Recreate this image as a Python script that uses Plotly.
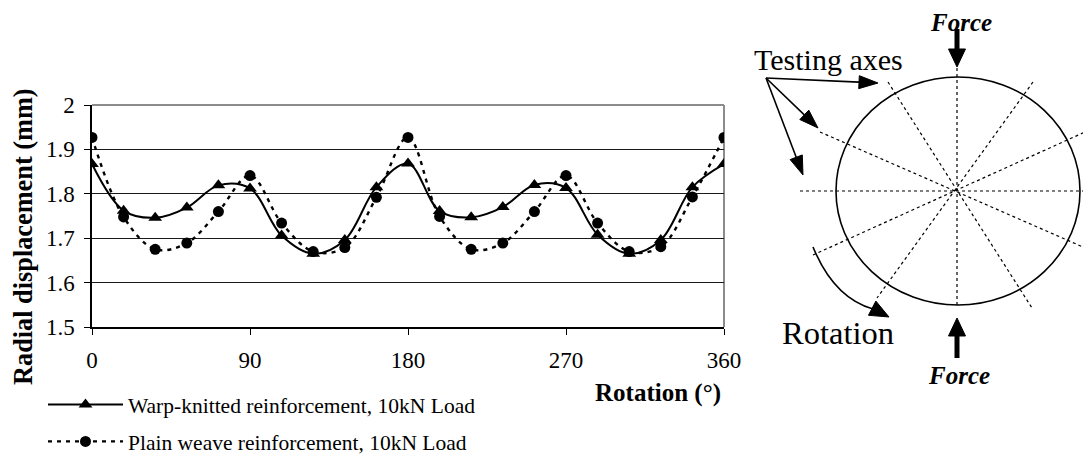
import plotly.graph_objects as go

VIEW_W, VIEW_H = 1091, 457
OFF = 8  # default page (body) margin in the browser
W, H = VIEW_W - OFF, VIEW_H - OFF

# ---------------- data ----------------
rotation_deg = [0, 18, 36, 54, 72, 90, 108, 126, 144, 162, 180,
                198, 216, 234, 252, 270, 288, 306, 324, 342, 360]
warp_knitted = [1.867, 1.762, 1.746, 1.769, 1.819, 1.812, 1.706, 1.665, 1.696, 1.815, 1.868,
                1.761, 1.747, 1.770, 1.820, 1.813, 1.708, 1.665, 1.696, 1.815, 1.867]
plain_weave = [1.927, 1.748, 1.675, 1.689, 1.760, 1.841, 1.734, 1.670, 1.679, 1.792, 1.927,
               1.749, 1.675, 1.689, 1.760, 1.841, 1.734, 1.670, 1.681, 1.793, 1.927]
x_ticks = [0, 90, 180, 270, 360]
y_ticks = [1.5, 1.6, 1.7, 1.8, 1.9, 2.0]
y_tick_text = ["1.5", "1.6", "1.7", "1.8", "1.9", "2"]
series_names = ["Warp-knitted reinforcement, 10kN Load",
                "Plain weave reinforcement, 10kN Load"]

FONT = "Liberation Serif, Times New Roman, serif"


def px(x):
    """page pixel x -> paper fraction"""
    return (x - OFF) / W


def py(y):
    """page pixel y -> paper fraction"""
    return 1 - (y - OFF) / H


fig = go.Figure()
fig.add_trace(go.Scatter(
    x=rotation_deg, y=warp_knitted, name=series_names[0],
    mode="lines+markers", line=dict(color="black", width=2, shape="spline", smoothing=1),
    marker=dict(symbol="triangle-up", size=12, color="black"),
    legendgroup="a"))
fig.add_trace(go.Scatter(
    x=rotation_deg, y=plain_weave, name=series_names[1],
    mode="lines+markers", line=dict(color="black", width=2.4, dash="4px,5px", shape="spline", smoothing=1),
    marker=dict(symbol="circle", size=11, color="black"),
    legendgroup="b"))

shapes = []
annotations = []

# top/right gray border of plot area
shapes.append(dict(type="line", xref="x domain", yref="y domain", x0=0, x1=1, y0=1, y1=1,
                   line=dict(color="#8c8c8c", width=2), layer="below"))
shapes.append(dict(type="line", xref="x domain", yref="y domain", x0=1, x1=1, y0=0, y1=1,
                   line=dict(color="#8c8c8c", width=2), layer="below"))

# ---------------- diagram (right) ----------------
cx, cy, rx, ry = 958, 191, 122, 114
shapes.append(dict(type="circle", xref="paper", yref="paper",
                   x0=px(cx - rx), x1=px(cx + rx), y0=py(cy + ry), y1=py(cy - ry),
                   line=dict(color="black", width=1.6)))

axes_lines = [((800, 191), (1091, 191)),
              ((957, 68), (957, 308)),
              ((888, 82), (1032, 308)),
              ((1033, 82), (877, 298)),
              ((820, 132), (1083, 247)),
              ((813, 255), (1085, 132))]
for (x0, y0), (x1, y1) in axes_lines:
    shapes.append(dict(type="line", xref="paper", yref="paper",
                       x0=px(x0), y0=py(y0), x1=px(x1), y1=py(y1),
                       line=dict(color="black", width=1.2, dash="dot")))


def seg(p0, p1, width):
    shapes.append(dict(type="line", xref="paper", yref="paper",
                       x0=px(p0[0]), y0=py(p0[1]), x1=px(p1[0]), y1=py(p1[1]),
                       line=dict(color="black", width=width)))


def head(tail, tip, length, half):
    dx, dy = tip[0] - tail[0], tip[1] - tail[1]
    n = (dx * dx + dy * dy) ** 0.5
    ux, uy = dx / n, dy / n
    bx, by = tip[0] - ux * length, tip[1] - uy * length
    p1 = (bx - uy * half, by + ux * half)
    p2 = (bx + uy * half, by - ux * half)
    path = "M {:.5f} {:.5f} L {:.5f} {:.5f} L {:.5f} {:.5f} Z".format(
        px(tip[0]), py(tip[1]), px(p1[0]), py(p1[1]), px(p2[0]), py(p2[1]))
    shapes.append(dict(type="path", xref="paper", yref="paper", path=path,
                       fillcolor="black", line=dict(color="black", width=1)))
    return (bx, by)


def arrow(tail, tip, width, length, half):
    base = head(tail, tip, length, half)
    seg(tail, base, width)


# Force arrows
arrow((957, 29), (957, 67), 5, 18, 8.5)
arrow((957, 358), (957, 318), 5, 18, 8.5)

# Testing axes arrows
tail = (766, 78)
for tip in [(878, 83), (818, 128), (803, 175)]:
    arrow(tail, tip, 1.6, 19, 6.5)

# Rotation arc
shapes.append(dict(type="path", xref="paper", yref="paper",
                   path="M {:.5f} {:.5f} Q {:.5f} {:.5f} {:.5f} {:.5f}".format(
                       px(813), py(247), px(834), py(298), px(873), py(309)),
                   line=dict(color="black", width=1.6)))
head((868, 306), (889, 317), 19, 8)


def label(text, x, y, size, angle=0):
    annotations.append(dict(text=text, x=px(x), y=py(y), xref="paper", yref="paper",
                            xanchor="center", yanchor="middle", textangle=angle,
                            showarrow=False, font=dict(family=FONT, size=size, color="black")))


label("<b><i>Force</i></b>", 961, 22, 25)
label("<b><i>Force</i></b>", 959, 375, 25)
label("Testing axes", 828, 60, 30)
label("Rotation", 838, 333, 32.5)
label("<b>Radial displacement (mm)</b>", 23, 237, 26.3, -90)
label("<b>Rotation (°)</b>", 658, 393, 25)

fig.update_layout(
    template="none",
    width=W, height=H, autosize=False,
    margin=dict(l=0, r=0, t=0, b=0, pad=0, autoexpand=False),
    paper_bgcolor="white", plot_bgcolor="white",
    font=dict(family=FONT, size=21, color="black"),
    showlegend=True,
    legend=dict(x=px(43), y=py(384), xanchor="left", yanchor="top",
                itemwidth=75, tracegroupgap=6, bgcolor="rgba(0,0,0,0)",
                font=dict(family=FONT, size=21.5, color="black")),
    xaxis=dict(domain=[px(92), px(724)], range=[0, 360], tickvals=x_ticks, automargin=False,
               showgrid=False, zeroline=False, showline=True, linecolor="black", linewidth=1.5,
               ticks="outside", ticklen=6, tickcolor="black", ticklabelstandoff=6,
               tickfont=dict(family=FONT, size=23, color="black")),
    yaxis=dict(domain=[py(327), py(105)], range=[1.5, 2.0], tickvals=y_ticks, ticktext=y_tick_text,
               automargin=False,
               showgrid=True, gridcolor="#1a1a1a", gridwidth=1, zeroline=False,
               showline=True, linecolor="black", linewidth=1.5,
               ticks="outside", ticklen=6, tickcolor="black", ticklabelstandoff=5,
               tickfont=dict(family=FONT, size=23, color="black")),
    shapes=shapes,
    annotations=annotations,
)

fig.write_html("out.html")
